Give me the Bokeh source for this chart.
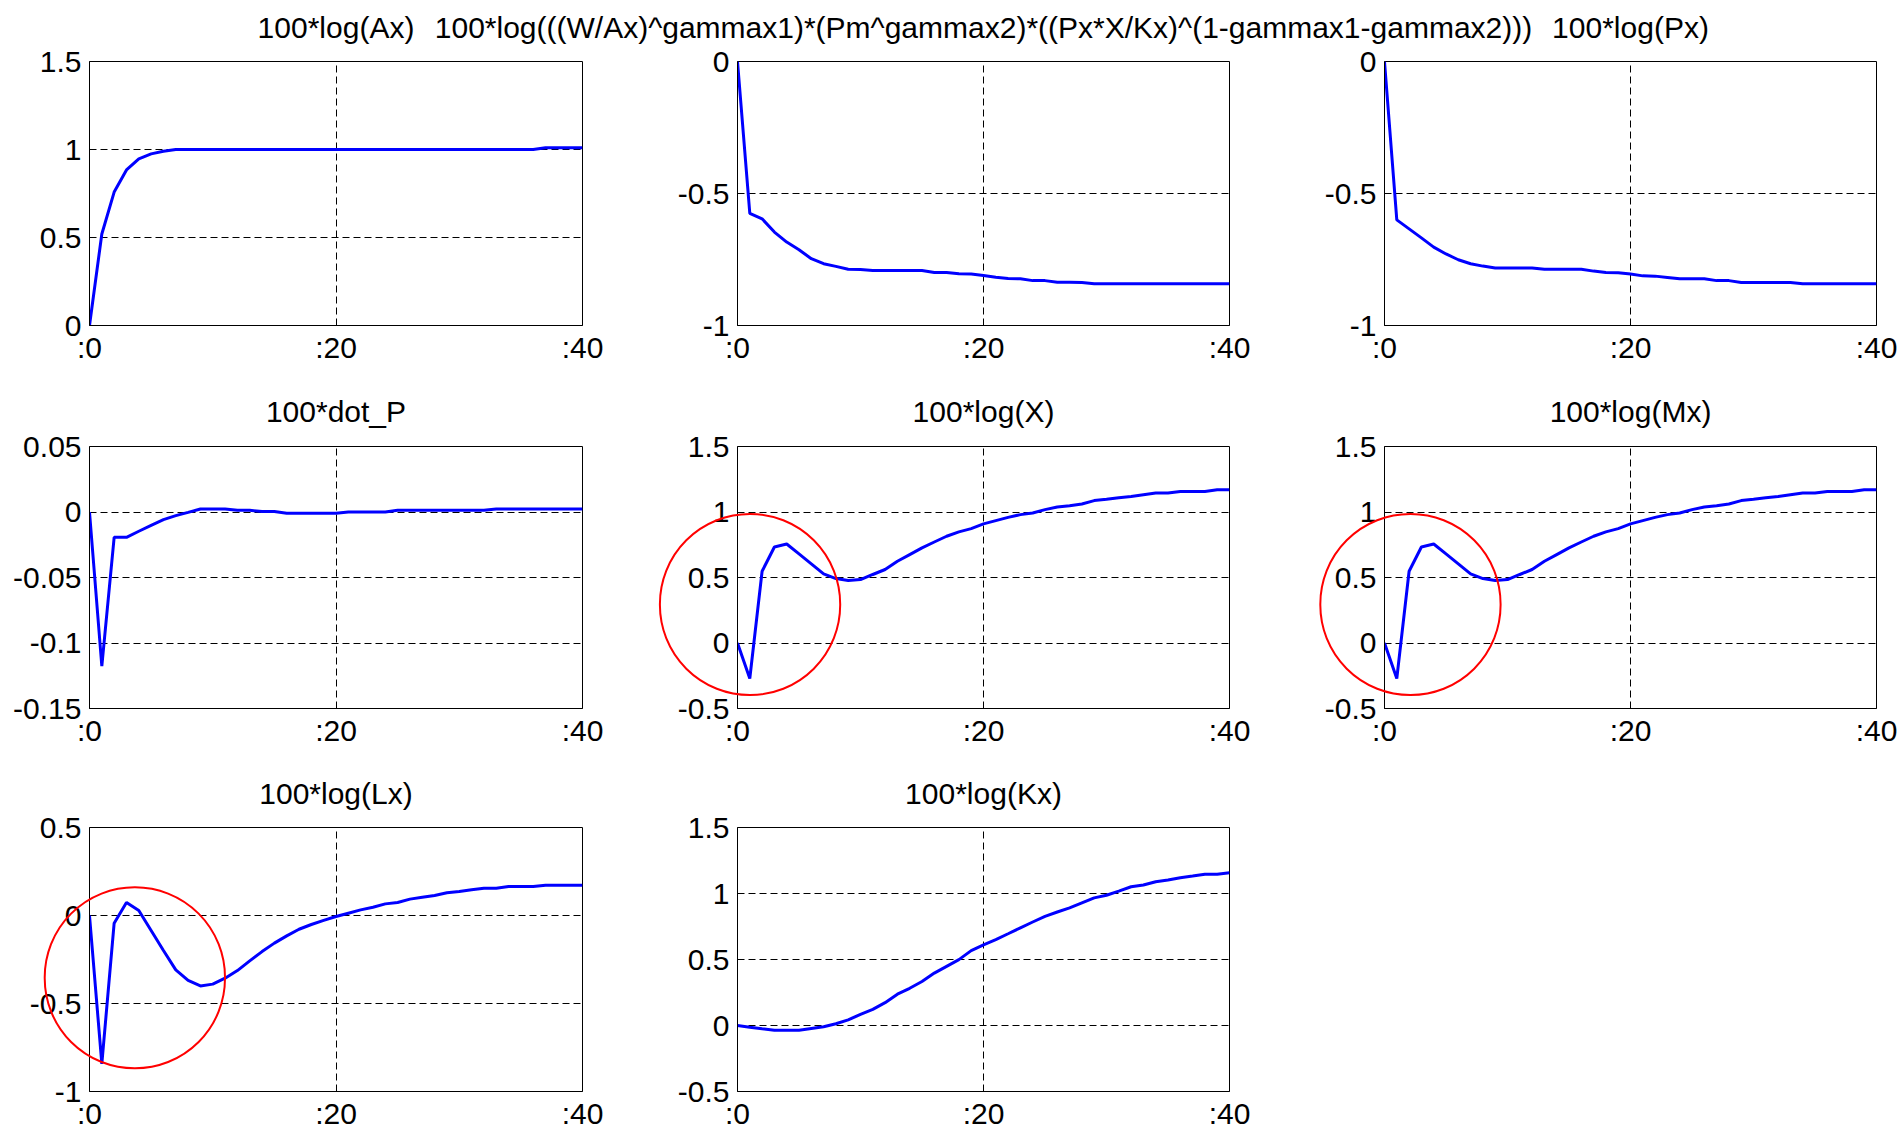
from bokeh.plotting import figure
from bokeh.layouts import column, row
from bokeh.models import Range1d, Label
from bokeh.core.properties import value
from bokeh.embed import file_html
from bokeh.resources import INLINE

# ---------------- data ----------------
periods = list(range(41))
x_ticks = [0, 20, 40]
x_labels = [":0", ":20", ":40"]

ax_irf = [0, 0.52, 0.758, 0.884, 0.947, 0.975, 0.99, 1.0,
          1.0, 1.0, 1.0, 1.0, 1.0, 1.0, 1.0, 1.0, 1.0, 1.0, 1.0, 1.0, 1.0, 1.0, 1.0,
          1.0, 1.0, 1.0, 1.0, 1.0, 1.0, 1.0, 1.0, 1.0, 1.0, 1.0, 1.0, 1.0, 1.0,
          1.01, 1.01, 1.01, 1.01]

share_irf = [0, -0.575, -0.596, -0.646, -0.684, -0.713, -0.747, -0.766, -0.776, -0.787,
             -0.788, -0.792, -0.792, -0.792, -0.792, -0.792, -0.799, -0.799, -0.804, -0.805,
             -0.811, -0.817, -0.822, -0.823, -0.830, -0.830, -0.836, -0.836, -0.837, -0.842,
             -0.842, -0.842, -0.842, -0.842, -0.842, -0.842, -0.842, -0.842, -0.842, -0.842, -0.842]

px_irf = [0, -0.600, -0.634, -0.668, -0.703, -0.729, -0.751, -0.766, -0.775, -0.782,
          -0.782, -0.782, -0.782, -0.787, -0.787, -0.787, -0.787, -0.794, -0.799, -0.800,
          -0.805, -0.812, -0.813, -0.818, -0.823, -0.823, -0.823, -0.830, -0.830, -0.837,
          -0.837, -0.837, -0.837, -0.837, -0.842, -0.842, -0.842, -0.842, -0.842, -0.842, -0.842]

dotp_irf = [0, -0.1177, -0.0193, -0.0193, -0.0147, -0.0102, -0.0058, -0.0028, -0.0003, 0.0023,
            0.0023, 0.0023, 0.0013, 0.0013, 0.0003, 0.0003, -0.001, -0.001, -0.001, -0.001,
            -0.001, 0.0, 0.0, 0.0, 0.0, 0.0013, 0.0013, 0.0013, 0.0013, 0.0013,
            0.0013, 0.0013, 0.0013, 0.0023, 0.0023, 0.0023, 0.0023, 0.0023, 0.0023, 0.0023, 0.0023]

x_irf = [0, -0.271, 0.548, 0.733, 0.756, 0.680, 0.604, 0.527, 0.492, 0.477,
         0.484, 0.523, 0.561, 0.624, 0.675, 0.726, 0.771, 0.815, 0.848, 0.873,
         0.909, 0.934, 0.959, 0.980, 0.992, 1.018, 1.038, 1.048, 1.061, 1.087,
         1.097, 1.109, 1.119, 1.132, 1.145, 1.145, 1.157, 1.157, 1.157, 1.170, 1.170]

mx_irf = [0, -0.271, 0.548, 0.733, 0.756, 0.680, 0.604, 0.527, 0.492, 0.477,
          0.484, 0.523, 0.561, 0.624, 0.675, 0.726, 0.771, 0.815, 0.848, 0.873,
          0.909, 0.934, 0.959, 0.980, 0.992, 1.018, 1.038, 1.048, 1.061, 1.087,
          1.097, 1.109, 1.119, 1.132, 1.145, 1.145, 1.157, 1.157, 1.157, 1.170, 1.170]

lx_irf = [0, -0.843, -0.044, 0.074, 0.028, -0.085, -0.199, -0.309, -0.369, -0.400,
          -0.390, -0.356, -0.313, -0.258, -0.205, -0.157, -0.116, -0.078, -0.051, -0.028,
          -0.006, 0.013, 0.032, 0.047, 0.066, 0.074, 0.093, 0.104, 0.114, 0.129,
          0.136, 0.146, 0.155, 0.155, 0.165, 0.165, 0.165, 0.172, 0.172, 0.172, 0.172]

kx_irf = [0, -0.013, -0.025, -0.036, -0.036, -0.036, -0.023, -0.010, 0.013, 0.043,
          0.084, 0.122, 0.173, 0.237, 0.282, 0.333, 0.397, 0.448, 0.499, 0.567,
          0.611, 0.651, 0.695, 0.740, 0.784, 0.827, 0.860, 0.891, 0.929, 0.967,
          0.987, 1.018, 1.051, 1.064, 1.089, 1.102, 1.120, 1.132, 1.145, 1.145, 1.158]

titles_row1 = ["100*log(Ax)",
               "100*log(((W/Ax)^gammax1)*(Pm^gammax2)*((Px*X/Kx)^(1-gammax1-gammax2)))",
               "100*log(Px)"]
titles_row2 = ["100*dot_P", "100*log(X)", "100*log(Mx)"]
titles_row3 = ["100*log(Lx)", "100*log(Kx)"]

yticks_a = [0, 0.5, 1, 1.5]
ylabels_a = ["0", "0.5", "1", "1.5"]
yticks_b = [-1, -0.5, 0]
ylabels_b = ["-1", "-0.5", "0"]
yticks_c = [-0.15, -0.1, -0.05, 0, 0.05]
ylabels_c = ["-0.15", "-0.1", "-0.05", "0", "0.05"]
yticks_d = [-0.5, 0, 0.5, 1, 1.5]
ylabels_d = ["-0.5", "0", "0.5", "1", "1.5"]
yticks_e = [-1, -0.5, 0, 0.5]
ylabels_e = ["-1", "-0.5", "0", "0.5"]

# ---------------- layout / style ----------------
FONT = "Liberation Sans"
FS = "30px"
BLUE = "#0000FF"
RED = "#FF0000"
COL_BL = [89, 80, 80]
COL_BR = [75, 75, 22]
FRAME_W = [493, 492, 492]
COL_W = [COL_BL[i] + FRAME_W[i] + COL_BR[i] for i in range(3)]
COL_X0 = [0, COL_W[0], COL_W[0] + COL_W[1]]
TOTAL_W = sum(COL_W)
CENTERS = [COL_X0[i] + COL_BL[i] + FRAME_W[i] / 2 for i in range(3)]
TOP_B = 17
CIRCLE_R = 90
CIRCLE_BL = 270   # wider left border for panels whose red ring sits in the left side panel


def make_panel(series, yrange, yticks, ylabels, col, frame_h, bottom_b, circle=None):
    bl = COL_BL[col] if circle is None else CIRCLE_BL
    extra = bl - COL_BL[col]
    p = figure(frame_width=FRAME_W[col], frame_height=frame_h,
               x_range=Range1d(0, 40), y_range=Range1d(*yrange),
               min_border_left=bl, min_border_right=COL_BR[col],
               min_border_top=TOP_B, min_border_bottom=bottom_b,
               output_backend="svg", toolbar_location=None, tools="")
    if extra:
        # shift left so the frame stays where the reference has it
        p.margin = (0, 0, 0, -extra)
    p.background_fill_color = "white"
    p.border_fill_color = "white"
    p.border_fill_alpha = 0 if extra else 1
    p.outline_line_color = "black"
    p.outline_line_width = 1
    p.outline_line_alpha = 1

    p.xaxis.ticker = x_ticks
    p.xaxis.major_label_overrides = dict(zip(x_ticks, x_labels))
    p.yaxis.ticker = yticks
    p.yaxis.major_label_overrides = dict(zip(yticks, ylabels))
    for ax in (p.xaxis[0], p.yaxis[0]):
        ax.axis_line_color = "black"
        ax.major_tick_in = 0
        ax.major_tick_out = 0
        ax.minor_tick_line_color = None
        ax.major_label_text_font = FONT
        ax.major_label_text_font_size = FS
        ax.major_label_text_color = "black"
    p.yaxis.major_label_standoff = 8
    p.xaxis.major_label_standoff = 5

    p.xgrid.ticker = x_ticks
    p.ygrid.ticker = yticks
    for g in (p.xgrid[0], p.ygrid[0]):
        g.grid_line_color = "black"
        g.grid_line_dash = "7 4"
        g.grid_line_width = 1

    p.line(periods, series, line_color=BLUE, line_width=3)

    if circle is not None:
        cx, cy = circle
        ring = Label(x=cx, y=cy, x_units="data", y_units="data", text=" ",
                     text_font_size="1px", text_align="center", text_baseline="middle",
                     padding=CIRCLE_R, border_radius=CIRCLE_R,
                     border_line_color=RED, border_line_width=2, border_line_alpha=1,
                     background_fill_color=None)
        # placed in a side panel so that it is not clipped to the frame
        p.add_layout(ring, "left")
    return p


def make_strip(height, texts, center_from_top):
    s = figure(width=TOTAL_W, height=height, x_range=Range1d(0, TOTAL_W),
               y_range=Range1d(0, height), min_border=0,
               x_axis_location=None, y_axis_location=None,
               output_backend="svg", toolbar_location=None, tools="")
    s.grid.visible = False
    s.outline_line_color = None
    s.background_fill_color = "white"
    s.border_fill_color = "white"
    n = len(texts)
    s.text(x=CENTERS[:n], y=[height - center_from_top] * n, text=texts,
           text_font=value(FONT), text_font_size=FS, text_align="center",
           text_baseline="middle", text_color="black")
    return s


# strip1: 0..44, row1 frame 61..325, fig ends 365
strip1 = make_strip(44, titles_row1, 27)
p1 = make_panel(ax_irf, (0, 1.5), yticks_a, ylabels_a, 0, 264, 40)
p2 = make_panel(share_irf, (-1, 0), yticks_b, ylabels_b, 1, 264, 40)
p3 = make_panel(px_irf, (-1, 0), yticks_b, ylabels_b, 2, 264, 40)

# strip2: 365..428, row2 frame 445..707, fig ends 747
strip2 = make_strip(63, titles_row2, 410.3 - 365)
p4 = make_panel(dotp_irf, (-0.15, 0.05), yticks_c, ylabels_c, 0, 262, 40)
p5 = make_panel(x_irf, (-0.5, 1.5), yticks_d, ylabels_d, 1, 262, 40, circle=(1.02, 0.294))
p6 = make_panel(mx_irf, (-0.5, 1.5), yticks_d, ylabels_d, 2, 262, 40, circle=(2.11, 0.294))

# strip3: 747..808, row3 frame 825..1089, fig ends 1128
strip3 = make_strip(61, titles_row3, 791.2 - 747)
p7 = make_panel(lx_irf, (-1, 0.5), yticks_e, ylabels_e, 0, 264, 39, circle=(3.68, -0.354))
p8 = make_panel(kx_irf, (-0.5, 1.5), yticks_d, ylabels_d, 1, 264, 39)

layout = column(strip1, row(p1, p2, p3), strip2, row(p4, p5, p6), strip3, row(p7, p8))

open("out.html", "w").write(file_html(layout, INLINE))
